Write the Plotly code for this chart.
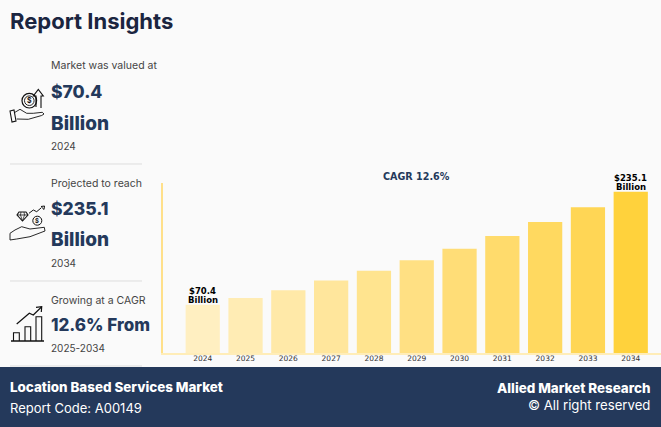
import plotly.graph_objects as go

WIDTH = 661
HEIGHT = 427

# values
years = ['2024', '2025', '2026', '2027', '2028', '2029', '2030', '2031', '2032', '2033', '2034']
market_size = [70.4, 80.3, 91.5, 105.7, 119.7, 135.3, 151.8, 170.4, 190.8, 212.3, 235.1]
labelled_years = ['2024', '2034']
labelled_values = [70.4, 235.1]
label_amounts = ['$70.4', '$235.1']
bar_colours = ['#FFEFC1', '#FFECB4', '#FFE9A8', '#FFE69C', '#FFE48F', '#FFE083',
               '#FFDD77', '#FFDB6C', '#FFD960', '#FFD655', '#FFD23C']

BACKGROUND = '#FAFAFA'
NAVY = '#24395B'
TITLE_NAVY = '#1B2540'
GREY = '#444444'
RULE = '#DDDDDD'
AXIS_COLOUR = '#FFE08A'
UI_FONT = 'Inter'
CHART_FONT = 'DejaVu Sans'


def px(x):
    return x / WIDTH


def py(y):
    return 1 - y / HEIGHT


def add_text(fig, x, y, text, size, colour=GREY, weight=400, anchor='left', font=UI_FONT):
    """Place a text block, x and y being page pixels of its anchor and vertical middle."""
    # annotations carry about 2px of padding, take it back out
    shift = {'left': -2, 'right': 2, 'center': 0}[anchor]
    fig.add_annotation(x=px(x), y=py(y), xref='paper', yref='paper', text=text,
                       showarrow=False, xanchor=anchor, yanchor='middle', xshift=shift,
                       font={'family': font, 'size': size, 'color': colour, 'weight': weight})


def icon_path(points, closed=False):
    d = 'M ' + ' L '.join(f'{px(x):.5f},{py(y):.5f}' for x, y in points)
    return d + (' Z' if closed else '')


def add_icon(fig, points, width=1.0, closed=False):
    fig.add_shape(type='path', xref='paper', yref='paper', path=icon_path(points, closed),
                  line={'color': '#111111', 'width': width})


def add_ring(fig, cx, cy, r, width=1.0):
    fig.add_shape(type='circle', xref='paper', yref='paper',
                  x0=px(cx - r), x1=px(cx + r), y0=py(cy + r), y1=py(cy - r),
                  line={'color': '#111111', 'width': width})


fig = go.Figure()
fig.add_trace(go.Bar(
    x=years,
    y=market_size,
    marker={'color': bar_colours, 'line': {'width': 0}},
    width=0.8,
))

fig.update_layout(
    width=WIDTH,
    height=HEIGHT,
    margin={'l': 0, 'r': 0, 't': 0, 'b': 0},
    paper_bgcolor=BACKGROUND,
    plot_bgcolor=BACKGROUND,
    showlegend=False,
)

fig.update_xaxes(
    domain=[px(162.5), 1],
    range=[-0.94, 10.707],
    type='category',
    showgrid=False,
    zeroline=False,
    showline=True,
    linecolor='#FFEDB8',
    linewidth=2,
    ticks='',
    ticklabelstandoff=-3,
    tickfont={'family': CHART_FONT, 'size': 7.5, 'color': '#333333'},
    anchor='y',
)
fig.update_yaxes(
    domain=[py(353), py(183)],
    range=[0, 247.7],
    showgrid=False,
    zeroline=False,
    showline=True,
    linecolor=AXIS_COLOUR,
    linewidth=1.5,
    ticks='',
    showticklabels=False,
)

# two separate lines, the wrapped bar text is spaced too far apart
# category annotations want the serial number, '2024' would be read as position 2024
for year, value, amount in zip(labelled_years, labelled_values, label_amounts):
    for line, lift in ((amount, 9), ('Billion', 0)):
        fig.add_annotation(x=years.index(year), y=value, xref='x', yref='y', text=line,
                           showarrow=False, yanchor='bottom', yshift=lift - 2,
                           font={'family': CHART_FONT, 'size': 8.5, 'color': '#000000', 'weight': 700})

# footer band and section rules
fig.add_shape(type='rect', xref='paper', yref='paper', x0=0, x1=1, y0=0, y1=py(367),
              fillcolor=NAVY, line={'width': 0})
for rule_y in (164, 281, 366):
    fig.add_shape(type='line', xref='paper', yref='paper', x0=px(10), x1=px(142),
                  y0=py(rule_y), y1=py(rule_y), line={'color': RULE, 'width': 1})

add_text(fig, 10, 21, 'Report Insights', 22, TITLE_NAVY, 700)

add_text(fig, 51, 66, 'Market was valued at', 10.5)
add_text(fig, 51, 91, '$70.4', 17.5, NAVY, 800)
add_text(fig, 51, 123, 'Billion', 19, NAVY, 800)
add_text(fig, 51, 146, '2024', 10)

add_text(fig, 51, 183, 'Projected to reach', 10.5)
add_text(fig, 51, 208, '$235.1', 17.5, NAVY, 800)
add_text(fig, 51, 240, 'Billion', 19, NAVY, 800)
add_text(fig, 51, 263, '2034', 10)

add_text(fig, 51, 300, 'Growing at a CAGR', 10.5)
add_text(fig, 51, 325, '12.6% From', 17, NAVY, 800)
add_text(fig, 51, 348, '2025-2034', 10)

add_text(fig, 417, 176, 'CAGR 12.6%', 9.6, NAVY, 700, anchor='center', font=CHART_FONT)

add_text(fig, 10, 387, 'Location Based Services Market', 13.4, '#FFFFFF', 800)
add_text(fig, 10, 408, 'Report Code: A00149', 13, '#FFFFFF', 400)
add_text(fig, 650, 388, 'Allied Market Research', 13.4, '#FFFFFF', 800, anchor='right')
add_text(fig, 650, 405, '© All right reserved', 13.2, '#FFFFFF', 400, anchor='right')

# icon 1: coin and arrow above a hand
add_ring(fig, 29.3, 100.7, 7.3, 1.2)
add_ring(fig, 29.3, 100.7, 4.8, 0.9)
add_text(fig, 29.3, 100.7, '$', 7, '#111111', 700, anchor='center')
add_icon(fig, [(36, 107), (36, 96), (33.3, 96), (38.3, 89.3), (43.3, 96), (41, 96), (41, 108)], 1.1)
add_icon(fig, [(15, 112.3), (20, 109.3), (26.7, 113.3), (33.3, 113.3), (42.3, 112.3),
               (44, 114), (41.7, 115.5), (28.3, 119.3), (16.7, 119)], 0.9)
add_icon(fig, [(10, 111), (14, 110), (16, 121), (12, 122)], 1.1, closed=True)

# icon 2: gem, coin and hand
add_icon(fig, [(19, 212), (26, 212), (28, 215), (22.5, 221), (17, 215)], 1.1, closed=True)
add_icon(fig, [(17, 215), (28, 215)], 0.8)
add_icon(fig, [(21, 212), (20.5, 215), (22.5, 221), (24.5, 215), (24, 212)], 0.7)
add_ring(fig, 37.3, 220.7, 4.5, 1.0)
add_text(fig, 37.3, 220.7, '$', 6, '#111111', 700, anchor='center')
add_icon(fig, [(29, 213.3), (33.3, 210), (36.7, 211.7), (41, 208)], 1.0)
add_icon(fig, [(41, 206.5), (44.5, 206), (44, 209.5)], 1.0, closed=True)
add_icon(fig, [(10, 233.3), (15, 230), (21.7, 226.7), (30, 229), (44.3, 227.3), (45, 231),
               (30, 236.7), (16.7, 239), (10, 240)], 0.9, closed=True)

# icon 3: growth chart
add_icon(fig, [(11, 341), (44, 341)], 1.3)
add_icon(fig, [(13.5, 341), (13.5, 332.7), (19.3, 332.7), (19.3, 341)], 1.1)
add_icon(fig, [(25, 341), (25, 326.7), (30.7, 326.7), (30.7, 341)], 1.1)
add_icon(fig, [(36, 341), (36, 316.7), (41.7, 316.7), (41.7, 341)], 1.1)
add_icon(fig, [(16.7, 324), (29.3, 313.3), (33.3, 315), (41.7, 306.7)], 1.2)
add_icon(fig, [(36, 307.3), (41.7, 306.7), (41.3, 312)], 1.2)

fig.write_html("out.html", config={'displayModeBar': False},
               post_script="document.body.style.margin='0';")
